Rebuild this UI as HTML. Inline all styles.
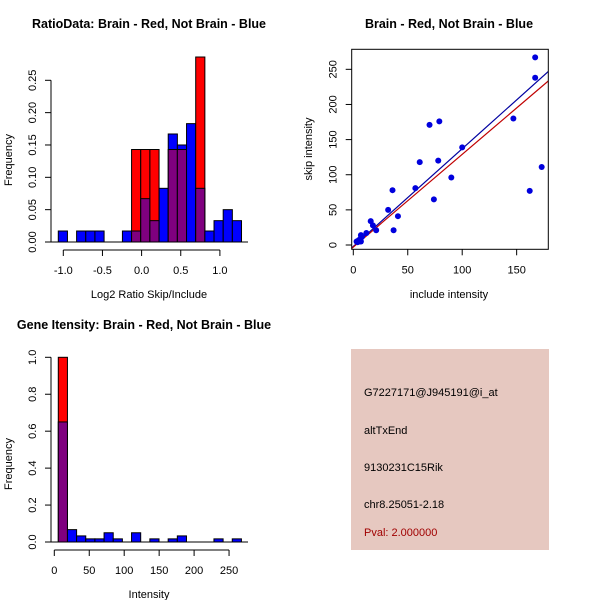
<!DOCTYPE html>
<html><head><meta charset="utf-8"><style>
body{margin:0;background:#fff}
svg{display:block;font-family:"Liberation Sans",sans-serif}
</style></head><body>
<svg id="s" width="600" height="600" viewBox="0 0 600 600">
<rect width="600" height="600" fill="#fff"/>
<g>
<rect x="351" y="349" width="198" height="201" fill="#e6c8c0"/>
<text x="364" y="396" font-size="11">G7227171@J945191@i_at</text>
<text x="364" y="434" font-size="11">altTxEnd</text>
<text x="364" y="471" font-size="11">9130231C15Rik</text>
<text x="364" y="508" font-size="11">chr8.25051-2.18</text>
<text x="364" y="536" font-size="11" fill="#a00000">Pval: 2.000000</text>
</g>
</svg>
<script>
// ---- Ratio histogram data
const ratioBinStart = -1.064;
const ratioBinWidth = 0.117;
const ratioBlue = [0.017,0,0.017,0.017,0.017,0,0,0.017,0.017,0.067,0.033,0.083,0.167,0.15,0.183,0.083,0.017,0.033,0.05,0.033];
const ratioRed  = [0,0,0,0,0,0,0,0,0.143,0.143,0.143,0,0.143,0.143,0,0.286,0,0,0,0];
const ratioXTicks = [-1.0,-0.5,0.0,0.5,1.0];
const ratioYTicks = [0.00,0.05,0.10,0.15,0.20,0.25];
// ---- Scatter data
const inclX = [167,167,147,162,173,70,79,78,61,100,90,74,57,36,37,41,32,16,18,21,12,7,7,5,4,6,7,3,8];
const skipY = [267,238,180,77,111,171,176,120,118,139,96,65,81,78,21,41,50,34,28,21,17,14,10,7,4,5,5,5,12];
const fitIntercepts = [-2,-3];
const fitSlopes = [1.39,1.32];
const fitColors = ['#0000a0','#c00000'];
const scatXTicks = [0,50,100,150];
const scatYTicks = [0,50,100,150,200,250];
// ---- Intensity histogram data
const intBinStart = 5.7;
const intBinWidth = 13.1;
const intBlue = [0.65,0.067,0.033,0.017,0.017,0.05,0.017,0,0.05,0,0.017,0,0.017,0.033,0,0,0,0.017,0,0.017];
const intRed  = [1.0,0,0,0,0,0,0,0,0,0,0,0,0,0,0,0,0,0,0,0];
const intXTicks = [0,50,100,150,200,250];
const intYTicks = [0.0,0.2,0.4,0.6,0.8,1.0];

const NS='http://www.w3.org/2000/svg';
const svg=document.getElementById('s');
function mk(tag,attrs,parent){const e=document.createElementNS(NS,tag);for(const k in attrs)e.setAttribute(k,attrs[k]);(parent||svg).appendChild(e);return e;}
function txt(x,y,s,size,parent,extra){const t=mk('text',Object.assign({x:x,y:y,'font-size':size,'text-anchor':'middle'},extra||{}),parent);t.textContent=s;return t;}

function hist(cfg){
  const g=mk('g',{});
  
  
  const sx=v=>cfg.x0px+(v-cfg.x0v)*cfg.kx, sy=v=>cfg.y0px-v*cfg.ky;
  const n=cfg.blue.length;
  for(let i=0;i<n;i++){
    const l=sx(cfg.start+i*cfg.w), r=sx(cfg.start+(i+1)*cfg.w);
    const b=cfg.blue[i], rd=cfg.red[i], m=Math.min(b,rd), mx=Math.max(b,rd);
    if(mx<=0) continue;
    const top=b>=rd?'#0000ff':'#ff0000';
    const bar=mk('rect',{x:l,y:sy(mx),width:r-l,height:sy(0)-sy(mx),fill:top,stroke:'#000','stroke-width':1},g);
    
    
    if(m>0){
      const p=mk('rect',{x:l,y:sy(m),width:r-l,height:sy(0)-sy(m),fill:'#7f007f',stroke:'#000','stroke-width':1},g);
      
      
    }
  }
  mk('line',{x1:cfg.baseL,x2:cfg.baseR,y1:sy(0),y2:sy(0),stroke:'#000'},g);
  const ya=mk('g',{},g);
  
  
  const yt=cfg.yTicks;
  mk('line',{x1:cfg.yAxX,x2:cfg.yAxX,y1:sy(yt[0]),y2:sy(yt[yt.length-1]),stroke:'#000'},ya);
  yt.forEach(v=>{mk('line',{x1:cfg.yAxX-6,x2:cfg.yAxX,y1:sy(v),y2:sy(v),stroke:'#000'},ya);
    txt(0,0,v.toFixed(cfg.yDec),11,ya,{transform:`translate(${cfg.yAxX-15},${sy(v)}) rotate(-90)`});});
  const xa=mk('g',{},g);
  
  
  const xt=cfg.xTicks;
  mk('line',{x1:sx(xt[0]),x2:sx(xt[xt.length-1]),y1:cfg.xAxY,y2:cfg.xAxY,stroke:'#000'},xa);
  xt.forEach(v=>{mk('line',{x1:sx(v),x2:sx(v),y1:cfg.xAxY,y2:cfg.xAxY+6,stroke:'#000'},xa);
    txt(sx(v),cfg.xAxY+24,v.toFixed(cfg.xDec),11,xa);});
  txt(cfg.titleX,cfg.titleY,cfg.title,12.5,g,{'font-weight':'bold'});
  txt(cfg.xLabX,cfg.xLabY,cfg.xLab,11,g);
  txt(0,0,'Frequency',11,g,{transform:`translate(12,${cfg.yLabY}) rotate(-90)`});
}

hist({name:'ratio-histogram',blue:ratioBlue,red:ratioRed,start:ratioBinStart,w:ratioBinWidth,
  x0px:63.3,x0v:-1,kx:78.3,y0px:242,ky:646.8,baseL:48,baseR:248,yAxX:51,xAxY:250,
  yTicks:ratioYTicks,xTicks:ratioXTicks,yDec:2,xDec:1,title:'RatioData: Brain - Red, Not Brain - Blue',
  titleX:149,titleY:28,xLab:'Log2 Ratio Skip/Include',xLabX:149,xLabY:298,yLabY:160});
hist({name:'intensity-histogram',blue:intBlue,red:intRed,start:intBinStart,w:intBinWidth,
  x0px:54.3,x0v:0,kx:0.699,y0px:542,ky:184.7,baseL:48,baseR:248,yAxX:51,xAxY:550,
  yTicks:intYTicks,xTicks:intXTicks,yDec:1,xDec:0,title:'Gene Itensity: Brain - Red, Not Brain - Blue',
  titleX:144,titleY:329,xLab:'Intensity',xLabX:149,xLabY:598,yLabY:464});

(function(){
  const g=mk('g',{});
  
  
  const sx=v=>353.3+v*1.089, sy=v=>245-v*0.7027;
  const L=351.7,R=548.3,T=49.3,B=249.3;
  const cp=mk('clipPath',{id:'cp'},g);mk('rect',{x:L,y:T,width:R-L,height:B-T},cp);
  const lines=mk('g',{'clip-path':'url(#cp)'},g);
  fitSlopes.forEach((s,i)=>{const ln=mk('line',{x1:sx(-10),y1:sy(fitIntercepts[i]-10*s),x2:sx(190),y2:sy(fitIntercepts[i]+190*s),stroke:fitColors[i],'stroke-width':1.2},lines);
    
    });
  inclX.forEach((x,i)=>{const c=mk('circle',{cx:sx(x),cy:sy(skipY[i]),r:3,fill:'#0000dd'},g);
    
    });
  mk('rect',{x:L,y:T,width:R-L,height:B-T,fill:'none',stroke:'#000'},g);
  const xa=mk('g',{},g);
  
  
  scatXTicks.forEach(v=>{mk('line',{x1:sx(v),x2:sx(v),y1:B,y2:B+6,stroke:'#000'},xa);txt(sx(v),B+24,String(v),11,xa);});
  const ya=mk('g',{},g);
  
  
  scatYTicks.forEach(v=>{mk('line',{x1:L-6,x2:L,y1:sy(v),y2:sy(v),stroke:'#000'},ya);
    txt(0,0,String(v),11,ya,{transform:`translate(${L-15},${sy(v)}) rotate(-90)`});});
  txt(449,28,'Brain - Red, Not Brain - Blue',12.5,g,{'font-weight':'bold'});
  txt(449,298,'include intensity',11,g);
  txt(0,0,'skip intensity',11,g,{transform:'translate(312,149) rotate(-90)'});
})();
</script>
</body></html>
